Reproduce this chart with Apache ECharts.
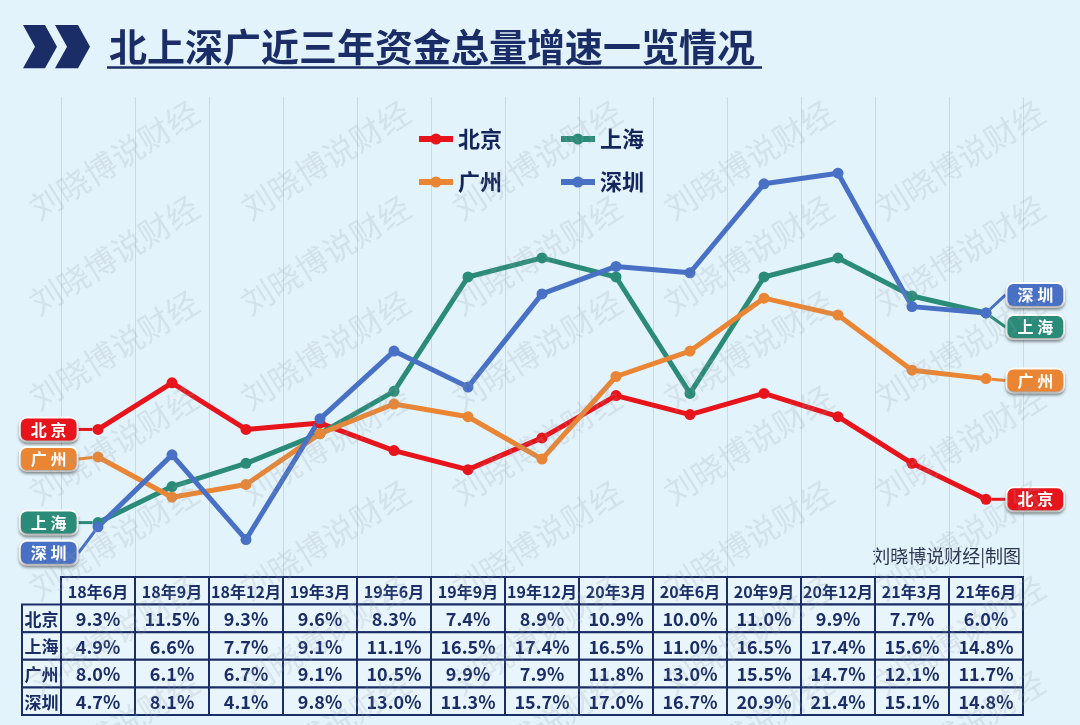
<!DOCTYPE html>
<html>
<head>
<meta charset="utf-8">
<script src="https://cdn.jsdelivr.net/npm/echarts@6/dist/echarts.min.js"></script>
<style>
html,body{margin:0;padding:0;background:#e3f3fb;}
#chart{width:1080px;height:725px;}
</style>
</head>
<body>
<div id="chart"></div>
<script>
// ---- data ----
const categories = ['18年6月','18年9月','18年12月','19年3月','19年6月','19年9月','19年12月','20年3月','20年6月','20年9月','20年12月','21年3月','21年6月'];
const beijing   = [9.3, 11.5, 9.3, 9.6, 8.3, 7.4, 8.9, 10.9, 10.0, 11.0, 9.9, 7.7, 6.0];
const shanghai  = [4.9, 6.6, 7.7, 9.1, 11.1, 16.5, 17.4, 16.5, 11.0, 16.5, 17.4, 15.6, 14.8];
const guangzhou = [8.0, 6.1, 6.7, 9.1, 10.5, 9.9, 7.9, 11.8, 13.0, 15.5, 14.7, 12.1, 11.7];
const shenzhen  = [4.7, 8.1, 4.1, 9.8, 13.0, 11.3, 15.7, 17.0, 16.7, 20.9, 21.4, 15.1, 14.8];
const cityNames = ['北京', '上海', '广州', '深圳'];
const titleText = '北上深广近三年资金总量增速一览情况';
const creditText = '刘晓博说财经|制图';
const watermarkText = '刘晓博说财经';

// ---- styles ----
const FONT = '"Noto Sans CJK SC", "Noto Sans", sans-serif';
const NAVY = '#1b2d66';
const colors = { '北京': '#e8141c', '上海': '#2a8b78', '广州': '#e98533', '深圳': '#4870c4' };
const seriesValues = [beijing, shanghai, guangzhou, shenzhen];
const tableRows = [beijing, shanghai, guangzhou, shenzhen];

// label offsets (pixels) for endpoint tags: [startDy, endDy]
const labelDy = { '北京': [0, 0], '上海': [0, 14], '广州': [2, 2], '深圳': [26, -18] };

function tagLabel(name, pos) {
  return {
    show: true,
    position: pos,
    distance: 16,
    formatter: () => name.split('').join(' '),
    color: '#fff',
    fontSize: 16,
    fontWeight: 'bold',
    fontFamily: FONT,
    lineHeight: 17,
    backgroundColor: colors[name],
    borderColor: '#ffffff',
    borderWidth: 2,
    borderRadius: 6,
    padding: [3, 10, 2, 10],
    shadowColor: 'rgba(0,0,0,0.35)',
    shadowBlur: 3,
    shadowOffsetY: 2
  };
}

const lineSeries = cityNames.map((name, si) => {
  const vals = seriesValues[si];
  const last = vals.length - 1;
  return {
    name: name,
    type: 'line',
    xAxisIndex: 0,
    yAxisIndex: 0,
    data: vals.map((v, i) => {
      if (i === 0) return { value: v, label: tagLabel(name, 'left'), labelLine: { show: true, lineStyle: { color: colors[name], width: 3 } } };
      if (i === last) return { value: v, label: tagLabel(name, 'right'), labelLine: { show: true, lineStyle: { color: colors[name], width: 3 } } };
      return v;
    }),
    symbol: 'circle',
    symbolSize: 11,
    color: colors[name],
    lineStyle: { width: 5, color: colors[name] },
    itemStyle: { color: colors[name] },
    label: { show: false },
    labelLayout: function (p) {
      const d = labelDy[name];
      if (p.dataIndex === 0) return { dy: d[0] };
      if (p.dataIndex === last) return { dy: d[1] };
      return {};
    },
    emphasis: { disabled: true },
    z: 3
  };
});

// table cells
const tableData = [];
for (let r = 0; r <= cityNames.length; r++) {
  for (let c = 0; c < categories.length; c++) tableData.push([c, r]);
}
const LABEL_COL_W = 39;
function renderCell(params, api) {
  const c = api.value(0), r = api.value(1);
  const p = api.coord([c, r]);
  const s = api.size([1, 1]);
  const txt = r === 0 ? categories[c] : tableRows[r - 1][c].toFixed(1) + '%';
  const children = [
    { type: 'rect', shape: { x: p[0] - s[0] / 2, y: p[1] - s[1] / 2, width: s[0], height: s[1] },
      style: { fill: '#e8f5fc', stroke: NAVY, lineWidth: 2 } },
    { type: 'text', style: { x: p[0], y: p[1] + 1, text: txt, align: 'center', verticalAlign: 'middle',
      fill: NAVY, fontSize: r === 0 ? 16 : 18, fontWeight: 'bold', fontFamily: FONT } }
  ];
  if (c === 0 && r > 0) {
    const x0 = p[0] - s[0] / 2 - LABEL_COL_W;
    children.push({ type: 'rect', shape: { x: x0, y: p[1] - s[1] / 2, width: LABEL_COL_W, height: s[1] },
      style: { fill: '#e8f5fc', stroke: NAVY, lineWidth: 2 } });
    children.push({ type: 'text', style: { x: x0 + LABEL_COL_W / 2, y: p[1] + 1, text: cityNames[r - 1], align: 'center',
      verticalAlign: 'middle', fill: NAVY, fontSize: 17, fontWeight: 'bold', fontFamily: FONT } });
  }
  return { type: 'group', children: children };
}

// watermarks (decoration)
const watermarks = [];
for (let j = 0; j < 5; j++) {
  for (let k = 0; k < 7; k++) {
    watermarks.push({
      type: 'text',
      x: 114 + 211.5 * j,
      y: 160 + 95 * k,
      rotation: 32 * Math.PI / 180,
      silent: true,
      z: 100,
      style: { text: watermarkText, x: 0, y: 0, align: 'center', verticalAlign: 'middle',
        fontSize: 32, fontFamily: FONT, fill: 'rgba(150,160,170,0.20)' }
    });
  }
}

const legendCommon = {
  left: 411, itemWidth: 34, itemHeight: 14, itemGap: 56,
  lineStyle: { width: 6 },
  textStyle: { fontSize: 22, fontWeight: 'bold', color: '#13255a', fontFamily: FONT }
};

const chart = echarts.init(document.getElementById('chart'));
chart.setOption({
  backgroundColor: '#e3f3fb',
  animation: false,
  title: {
    text: titleText,
    left: 104,
    top: 20,
    textStyle: { fontSize: 38, fontWeight: 'bold', color: NAVY, fontFamily: FONT, lineHeight: 44 }
  },
  legend: [
    Object.assign({ data: ['北京', '上海'], top: 123 }, legendCommon),
    Object.assign({ data: ['广州', '深圳'], top: 166 }, legendCommon)
  ],
  grid: [
    { left: 61, right: 57, top: 97, bottom: 141 },
    { left: 61, right: 57, top: 577, bottom: 10 }
  ],
  xAxis: [
    { type: 'category', gridIndex: 0, data: categories, boundaryGap: true,
      axisLine: { show: false }, axisTick: { show: false }, axisLabel: { show: false },
      splitLine: { show: true, lineStyle: { color: '#cbd9e2', width: 1 } } },
    { type: 'category', gridIndex: 1, data: categories, show: false }
  ],
  yAxis: [
    { type: 'value', gridIndex: 0, min: 2, max: 25, show: false, splitLine: { show: false } },
    { type: 'category', gridIndex: 1, data: [''].concat(cityNames), inverse: true, show: false }
  ],
  graphic: [
    { type: 'polygon', shape: { points: [[23, 25], [45, 25], [57, 46.7], [45, 68.3], [23, 68.3], [35, 46.7]] }, style: { fill: NAVY } },
    { type: 'polygon', shape: { points: [[55, 25], [78, 25], [90, 46.7], [78, 68.3], [55, 68.3], [67, 46.7]] }, style: { fill: NAVY } },
    { type: 'line', shape: { x1: 107, y1: 67.5, x2: 762, y2: 67.5 }, style: { stroke: NAVY, lineWidth: 2.5 } },
    { type: 'text', x: 1021, y: 556, style: { text: creditText, align: 'right', verticalAlign: 'middle',
      fontSize: 18, fontFamily: FONT, fill: '#2c3550' } }
  ].concat(watermarks),
  series: lineSeries.concat([
    { type: 'custom', name: 'table', xAxisIndex: 1, yAxisIndex: 1, data: tableData, renderItem: renderCell,
      silent: true, z: 5 }
  ])
});
</script>
</body>
</html>
